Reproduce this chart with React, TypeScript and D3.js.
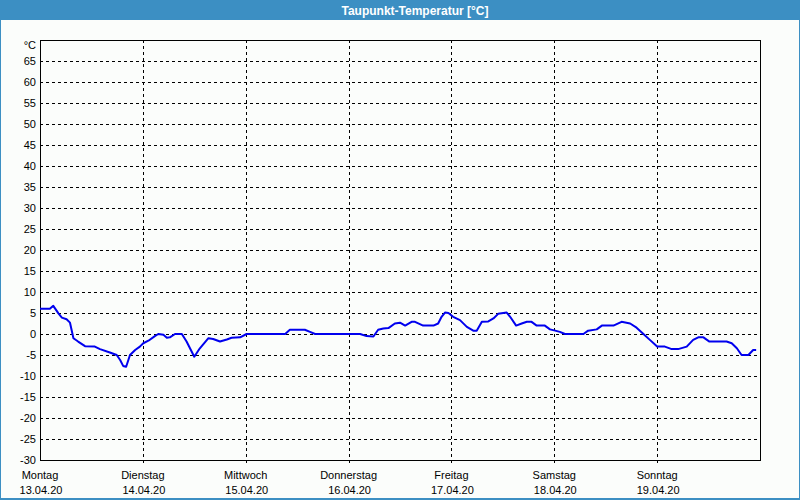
import React from "react";
import * as d3 from "d3";

const dayNames = ["Montag", "Dienstag", "Mittwoch", "Donnerstag", "Freitag", "Samstag", "Sonntag"];
const dayDates = ["13.04.20", "14.04.20", "15.04.20", "16.04.20", "17.04.20", "18.04.20", "19.04.20"];
const yTicks = [-30, -25, -20, -15, -10, -5, 0, 5, 10, 15, 20, 25, 30, 35, 40, 45, 50, 55, 60, 65];

// hours since Monday 00:00
const hours = [
  0, 2.3, 3.1, 4.3, 5.1, 6.2, 7, 7.8, 8.9, 10.5, 12.8, 14, 16.3, 17.9, 18.7, 19.4, 20.1, 21, 22.2, 23.3,
  24.1, 25.3, 26.8, 27.6, 28.8, 29.6, 30.3, 31.5, 33.1, 34.2, 36, 37.3, 39.3, 40.4, 42, 43.6, 44.7, 46.7,
  48.2, 57.2, 58.3, 61.8, 63, 64.2, 74.7, 76.2, 77.8, 78.9, 80.1, 81.3, 82.8, 84, 85.2, 86.7, 87.5, 89.4,
  91.8, 92.9, 93.7, 94.5, 95.3, 96.4, 98, 99.6, 101.1, 101.9, 103.1, 104.6, 105.8, 106.9, 108.9, 109.7,
  111.1, 112.4, 113.6, 114.7, 115.9, 117.8, 119, 120.2, 121.3, 122.5, 126.8, 127.9, 129.9, 131.1, 133.8,
  135.7, 137.7, 139.2, 140.8, 142.3, 144, 145.8, 147.4, 148.9, 150.9, 152.4, 153.6, 154.8, 156.2, 160.2,
  161.4, 162.6, 163.7, 165.3, 166.4, 167.1,
];
const dewpoint = [
  6, 6, 6.7, 4.9, 3.9, 3.5, 2.7, -1, -1.8, -2.9, -3, -3.6, -4.4, -5, -6.2, -7.6, -7.8, -5, -3.8, -3,
  -2.2, -1.6, -0.5, 0, -0.2, -0.9, -0.8, 0, 0, -1.8, -5.4, -3.4, -1, -1.2, -1.8, -1.3, -0.9, -0.8,
  0, 0, 1, 1, 0.5, 0, 0, -0.5, -0.6, 1, 1.3, 1.4, 2.5, 2.7, 2, 2.9, 2.9, 2,
  2, 2.5, 4.1, 5.1, 5, 4.1, 3.3, 1.7, 0.8, 0.8, 2.9, 3, 3.7, 4.8, 5.1, 4.1,
  2, 2.5, 2.9, 2.9, 2, 2, 1.1, 0.8, 0.5, 0, 0, 0.8, 1.1, 2, 2,
  2.9, 2.5, 1.5, 0, -1.4, -3, -3, -3.6, -3.6, -3, -1.4, -0.8, -0.8, -1.8, -1.8,
  -2.2, -3.4, -5, -5, -3.8, -3.8,
];

export default function App() {
  const W = 800, H = 500;
  const left = 40, right = 760, top = 40, bottom = 460;
  const x = d3.scaleLinear().domain([0, 168]).range([left, right]);
  const y = d3.scaleLinear().domain([-30, 70]).range([bottom, top]);
  const line = d3
    .line<number>()
    .x((_, i) => x(hours[i]))
    .y((d) => y(d))
    .curve(d3.curveLinear);
  const font = "'Liberation Sans', Arial, sans-serif";
  return (
    <svg width={W} height={H} style={{ position: "absolute", left: 0, top: 0 }}>
      <rect x={0} y={0} width={W} height={H} fill="#3c8fc3" />
      <rect x={1} y={20} width={W - 2} height={H - 22} fill="#fbfdfb" />
      <text x={415} y={14.5} fill="#fff" fontFamily={font} fontWeight="bold" fontSize={12} textAnchor="middle">
        Taupunkt-Temperatur [°C]
      </text>
      {yTicks.filter((v) => v > -30).map((v) => (
        <line key={"g" + v} x1={left} x2={right} y1={Math.round(y(v)) + 0.5} y2={Math.round(y(v)) + 0.5}
          stroke="#000" strokeDasharray="3,3" />
      ))}
      {d3.range(1, 7).map((d) => (
        <line key={"v" + d} x1={Math.round(x(d * 24)) + 0.5} x2={Math.round(x(d * 24)) + 0.5} y1={top} y2={bottom + 3}
          stroke="#000" strokeDasharray="3,3" />
      ))}
      <rect x={left + 0.5} y={top + 0.5} width={right - left} height={bottom - top} fill="none" stroke="#000" />
      {yTicks.map((v) => (
        <text key={"t" + v} x={36} y={y(v) + 4} fontFamily={font} fontSize={11} textAnchor="end" fill="#000">
          {v}
        </text>
      ))}
      <text x={36} y={49} fontFamily={font} fontSize={11} textAnchor="end" fill="#000">°C</text>
      {dayNames.map((n, i) => (
        <g key={n}>
          <text x={x(i * 24)} y={479} fontFamily={font} fontSize={11} textAnchor="middle" fill="#000">{n}</text>
          <text x={x(i * 24) + 1} y={494} fontFamily={font} fontSize={11} textAnchor="middle" fill="#000">{dayDates[i]}</text>
        </g>
      ))}
      <path d={line(dewpoint) || ""} fill="none" stroke="#0000ee" strokeWidth={2} strokeLinejoin="round" />
    </svg>
  );
}
